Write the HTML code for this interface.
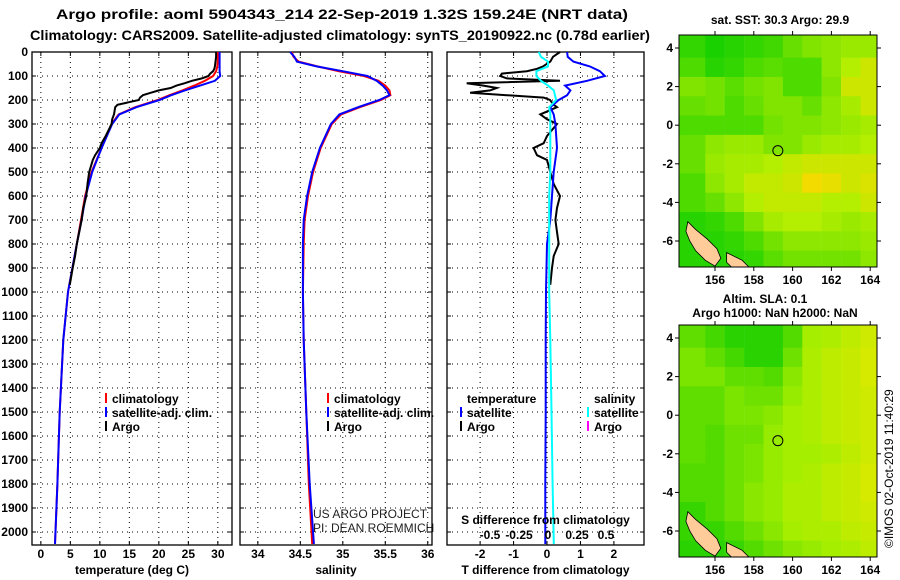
<!DOCTYPE html>
<html><head><meta charset="utf-8"><style>
html,body{margin:0;padding:0;background:#fff;}
svg{display:block;font-family:"Liberation Sans",sans-serif;}
.t{font-weight:bold;font-size:12px;fill:#000;}
</style></head><body>
<svg id="s" width="900" height="580" viewBox="0 0 900 580" xmlns="http://www.w3.org/2000/svg">
<text x="342" y="19" text-anchor="middle" font-size="14" font-weight="bold" textLength="572" lengthAdjust="spacingAndGlyphs">Argo profile: aoml 5904343_214 22-Sep-2019 1.32S 159.24E (NRT data)</text>
<text x="340" y="40" text-anchor="middle" font-size="14" font-weight="bold" textLength="620" lengthAdjust="spacingAndGlyphs">Climatology: CARS2009. Satellite-adjusted climatology: synTS_20190922.nc (0.78d earlier)</text>
<text class="t" x="780" y="24" text-anchor="middle">sat. SST: 30.3 Argo: 29.9</text>
<text class="t" x="765" y="303" text-anchor="middle">Altim. SLA: 0.1</text>
<text class="t" x="775" y="317" text-anchor="middle">Argo h1000: NaN h2000: NaN</text>
<text x="0" y="0" font-size="12" transform="translate(893,548) rotate(-90)">©IMOS 02-Oct-2019 11:40:29</text>
<text x="313" y="518" font-size="12" fill="#222">US ARGO PROJECT</text>
<text x="313" y="532" font-size="12" fill="#222">PI: DEAN ROEMMICH</text>
</svg>
<script>
// ---- profile data ----
const climDepth=[0,20,40,60,80,100,120,140,160,180,200,230,260,300,400,500,600,700,800,1000,1200,1500,1800,2050];
const climTemp=[30.0,30.0,30.0,29.9,29.7,29.2,27.8,26.0,24.0,21.8,19.8,16.0,13.2,12.0,10.3,8.6,7.5,6.8,6.1,4.6,3.8,3.2,2.8,2.4];
const satTemp=[30.3,30.3,30.3,30.3,30.3,30.4,29.5,27.0,24.4,22.1,20.1,16.2,13.3,12.1,10.3,8.7,7.6,6.9,6.1,4.6,3.8,3.2,2.8,2.4];
const argoDepth=[0,20,40,60,70,80,90,100,110,120,130,140,150,160,170,180,190,200,220,230,260,280,300,350,380,400,430,450,500,550,600,650,700,750,800,850,900,970];
const argoTemp=[29.7,29.7,29.6,29.5,29.4,29.2,28.7,28.4,27.3,25.6,24.4,23.0,22.0,20.0,18.6,17.3,16.8,16.6,13.0,12.6,12.4,12.1,12.0,11.0,10.3,10.0,9.2,8.8,8.2,7.9,7.7,7.2,6.9,6.5,6.1,5.8,5.4,4.9];
const climSal=[34.40,34.42,34.48,34.70,34.95,35.25,35.42,35.50,35.55,35.56,35.45,35.20,34.98,34.87,34.74,34.65,34.59,34.55,34.54,34.53,34.54,34.57,34.60,34.64];
const satSal=[34.38,34.43,34.46,34.69,35.0,35.29,35.40,35.47,35.52,35.55,35.43,35.18,34.96,34.86,34.73,34.64,34.58,34.54,34.53,34.53,34.54,34.57,34.61,34.66];
const tDiffArgo=[0.39,0.18,0.1,-0.12,-0.3,-0.6,-1.35,-1.4,-1.2,0.39,-2.4,-1.9,-1.5,-1.7,-2.3,-1.2,-0.1,0.09,0.2,0.3,-0.2,0,0.3,0,-0.1,-0.4,-0.3,0,0.1,0.2,0.39,0.3,0.25,0.3,0.35,0.2,0.15,0.1];
const tDiffSat=[0.6,0.62,0.79,1.28,1.58,1.73,1.2,0.54,0.7,0.6,0.35,0.1,0.2,0.25,0.3,0.2,0.15,0.1,0,-0.03,-0.04,-0.04,-0.05,-0.05];
const sDiffSat=[-0.08,-0.06,0,0,-0.1,-0.1,-0.06,0,0.05,0.06,0.07,0.01,0.02,0.02,0.02,0.02,0.01,0.01,0.01,0.01,0.02,0.03,0.04,0.05];
const depthTicks=[0,100,200,300,400,500,600,700,800,900,1000,1100,1200,1300,1400,1500,1600,1700,1800,1900,2000];
const tempTicks=[0,5,10,15,20,25,30];
const salTicks=[34,34.5,35,35.5,36];
const tdTicks=[-2,-1,0,1,2];
const sdTicks=[-0.5,-0.25,0,0.25,0.5];
const sdTickLabels=["-0.5","-0.25","0","0.25","0.5"];
// ---- map data (coarse 1-degree grids, rows lat 4..-7, cols lon 155..164) ----
const mapLats=[4,3,2,1,0,-1,-2,-3,-4,-5,-6,-7];
const mapLons=[155,156,157,158,159,160,161,162,163,164];
const sstGrid=[
[.2,.1,.15,.2,.25,.4,.5,.55,.6,.6],[.3,.15,.2,.3,.35,.3,.3,.55,.7,.8],[.5,.45,.35,.45,.5,.3,.3,.5,.8,.8],
[.4,.45,.3,.4,.5,.5,.4,.55,.65,.8],[.3,.3,.3,.3,.45,.5,.5,.55,.6,.65],[.4,.55,.6,.6,.5,.5,.6,.65,.65,.7],
[.4,.6,.65,.65,.7,.75,.8,.8,.8,.8],[.3,.55,.65,.75,.75,.8,.95,.9,.8,.85],[.3,.4,.55,.7,.75,.75,.75,.7,.7,.8],
[.15,.2,.3,.5,.65,.7,.7,.65,.6,.65],[.15,.15,.2,.3,.45,.55,.55,.55,.55,.6],[.15,.15,.15,.2,.35,.45,.45,.45,.45,.55]];
const slaGrid=[
[.35,.25,.15,.15,.15,.3,.6,.65,.75,.85],[.45,.35,.25,.15,.15,.4,.65,.75,.8,.9],[.45,.45,.35,.35,.3,.5,.65,.75,.8,.9],
[.35,.35,.45,.4,.4,.55,.65,.75,.8,.85],[.35,.35,.45,.45,.5,.6,.65,.75,.8,.85],[.35,.3,.4,.4,.55,.6,.65,.75,.8,.85],
[.35,.3,.4,.45,.55,.6,.6,.65,.75,.85],[.3,.3,.4,.45,.55,.6,.65,.75,.8,.9],[.3,.3,.4,.5,.55,.65,.65,.75,.8,.9],
[.2,.3,.4,.5,.55,.65,.65,.75,.8,.85],[.2,.2,.3,.4,.5,.6,.65,.65,.75,.8],[.15,.15,.2,.3,.4,.5,.55,.6,.65,.75]];
const argoLon=159.24, argoLat=-1.32;
const mapXTicks=[156,158,160,162,164];
const mapYTicks=[4,2,0,-2,-4,-6];

const NS="http://www.w3.org/2000/svg";
const svg=document.getElementById('s');
function el(tag,attrs,parent){const e=document.createElementNS(NS,tag);for(const k in attrs)e.setAttribute(k,attrs[k]);(parent||svg).appendChild(e);return e;}
const Y0=52,Y1=545;
const yD=d=>Y0+d*0.24;

function panel(name,x0,x1,dmin,dmax,xTicks,xLabels,xTitle,showY){
  const g=el('g',{});
  
  
  const xs=v=>x0+(v-dmin)/(dmax-dmin)*(x1-x0);
  for(const d of depthTicks){
    const l=el('line',{x1:x0,x2:x1,y1:yD(d),y2:yD(d),stroke:'#000','stroke-width':1,'stroke-dasharray':'1 4'},g);
    
    el('line',{x1:x0,x2:x0+4,y1:yD(d),y2:yD(d),stroke:'#000'},g);
    el('line',{x1:x1-4,x2:x1,y1:yD(d),y2:yD(d),stroke:'#000'},g);
    if(showY){const t=el('text',{x:x0-4,y:yD(d)+4,'text-anchor':'end',class:'t'},g);t.textContent=d;
      }
  }
  xTicks.forEach((v,i)=>{
    el('line',{x1:xs(v),x2:xs(v),y1:Y0,y2:Y1,stroke:'#000','stroke-dasharray':'1 4'},g);
    el('line',{x1:xs(v),x2:xs(v),y1:Y1-4,y2:Y1,stroke:'#000'},g);
    el('line',{x1:xs(v),x2:xs(v),y1:Y0,y2:Y0+4,stroke:'#000'},g);
    const t=el('text',{x:xs(v),y:558,'text-anchor':'middle',class:'t'},g);t.textContent=xLabels[i];
    
  });
  const tt=el('text',{x:(x0+x1)/2,y:574,'text-anchor':'middle',class:'t'},g);tt.textContent=xTitle;
  
  el('rect',{x:x0,y:Y0,width:x1-x0,height:Y1-Y0,fill:'none',stroke:'#000','stroke-width':1.3},g);
  return {g,xs};
}
function line(g,xs,vals,depths,color,name){
  const pts=vals.map((v,i)=>xs(v).toFixed(1)+','+yD(depths[i]).toFixed(1)).join(' ');
  const p=el('polyline',{points:pts,fill:'none',stroke:color,'stroke-width':2},g);
  
}
function legend(g,x,y,items){
  items.forEach((it,i)=>{
    if(it[0]) el('line',{x1:x,x2:x,y1:y+i*14-10,y2:y+i*14,stroke:it[0],'stroke-width':2},g);
    const t=el('text',{x:x+6,y:y+i*14,class:'t'},g);t.textContent=it[1];
    
  });
}
const p1=panel('temperature-panel',32,232,-1.5,32.4,tempTicks,tempTicks.map(String),'temperature (deg C)',true);
line(p1.g,p1.xs,climTemp,climDepth,'#f00','climatology-temp-line');
line(p1.g,p1.xs,satTemp,climDepth,'#00f','satellite-temp-line');
line(p1.g,p1.xs,argoTemp,argoDepth,'#000','argo-temp-line');
legend(p1.g,106,403,[['#f00','climatology'],['#00f','satellite-adj. clim.'],['#000','Argo']]);
const p2=panel('salinity-panel',240,432,33.79,36.05,salTicks,salTicks.map(String),'salinity',false);
line(p2.g,p2.xs,climSal,climDepth,'#f00','climatology-sal-line');
line(p2.g,p2.xs,satSal,climDepth,'#00f','satellite-sal-line');
legend(p2.g,328,403,[['#f00','climatology'],['#00f','satellite-adj. clim.'],['#000','Argo']]);
const p3=panel('difference-panel',447,644,-2.99,2.9,tdTicks,tdTicks.map(String),'T difference from climatology',false);
const sx=v=>548+v*116;
line(p3.g,p3.xs,tDiffArgo,argoDepth,'#000','argo-t-diff-line');
line(p3.g,p3.xs,tDiffSat,climDepth,'#00f','satellite-t-diff-line');
line(p3.g,v=>sx(v),sDiffSat,climDepth,'#0ff','satellite-s-diff-line');
legend(p3.g,461,403,[[null,'temperature'],['#00f','satellite'],['#000','Argo']]);
legend(p3.g,588,403,[[null,'salinity'],['#0ff','satellite'],['#f0f','Argo']]);
const st=el('text',{x:(447+644)/2,y:524,'text-anchor':'middle',class:'t'},p3.g);st.textContent='S difference from climatology';

sdTicks.forEach((v,i)=>{const t=el('text',{x:sx(v),y:539,'text-anchor':'middle',class:'t'},p3.g);t.textContent=sdTickLabels[i];
  });

const MX0=679,MX1=877;
const lx=lon=>715+(lon-156)*19.4;
function lerp(a,b,t){return a.map((v,i)=>Math.round(v+(b[i]-v)*t));}
function sstColor(v){if(v<0.7)return lerp([0,204,0],[180,238,0],v/0.7);return lerp([180,238,0],[255,215,0],(v-0.7)/0.3);}
function slaColor(v){if(v<0.6)return lerp([0,200,0],[165,238,0],v/0.6);return lerp([165,238,0],[230,232,0],(v-0.6)/0.4);}
function map(name,my0,my1,grid,colf,id){
  const ly=lat=>my0+13+(4-lat)*19.3;
  const g=el('g',{});
  
  const cp=el('clipPath',{id:id},g);el('rect',{x:MX0,y:my0,width:MX1-MX0,height:my1-my0},cp);
  const cg=el('g',{'clip-path':'url(#'+id+')'},g);
  mapLats.forEach((lat,r)=>{
    for(let c=-1;c<=mapLons.length;c++){
      const cc=Math.max(0,Math.min(mapLons.length-1,c));
      const lon=155+c;
      const top=r===0?my0-5:ly(lat+0.5), bot=r===mapLats.length-1?my1+5:ly(lat-0.5);
      const col=colf(grid[r][cc]);
      const rc=el('rect',{x:lx(lon-0.5),y:top,width:19.6,height:bot-top+0.5,fill:'rgb('+col.join(',')+')'},cg);
      
    }
  });
  const land1=[[154.6,-5.0],[155,-5.4],[155.6,-5.9],[156.1,-6.4],[156.3,-6.9],[156.0,-7.3],[155.5,-7.0],[155.0,-6.5],[154.7,-6.0],[154.5,-5.5]];
  const land2=[[156.6,-6.6],[157.4,-7.0],[157.8,-7.4],[157.0,-7.5],[156.6,-7.1]];
  [land1,land2].forEach(L=>{const pl=el('polygon',{points:L.map(p=>lx(p[0])+','+ly(p[1])).join(' '),fill:'#ffcc99',stroke:'#000','stroke-width':0.8},cg);
    });
  const ci=el('circle',{cx:lx(argoLon),cy:ly(argoLat),r:5,fill:'none',stroke:'#000','stroke-width':1},g);
  
  el('rect',{x:MX0,y:my0,width:MX1-MX0,height:my1-my0,fill:'none',stroke:'#000','stroke-width':1},g);
  mapXTicks.forEach(v=>{el('line',{x1:lx(v),x2:lx(v),y1:my0-4,y2:my0,stroke:'#000'},g);el('line',{x1:lx(v),x2:lx(v),y1:my1,y2:my1+4,stroke:'#000'},g);
    const t=el('text',{x:lx(v),y:my1+17,'text-anchor':'middle',class:'t'},g);t.textContent=v;
    });
  mapYTicks.forEach(v=>{el('line',{x1:MX0-4,x2:MX0,y1:ly(v),y2:ly(v),stroke:'#000'},g);el('line',{x1:MX1,x2:MX1+4,y1:ly(v),y2:ly(v),stroke:'#000'},g);
    const t=el('text',{x:MX0-6,y:ly(v)+4,'text-anchor':'end',class:'t'},g);t.textContent=v;
    });
}
map('sst-map',35,267,sstGrid,sstColor,'c1');
map('sla-map',325,557,slaGrid,slaColor,'c2');
</script>
</body></html>
